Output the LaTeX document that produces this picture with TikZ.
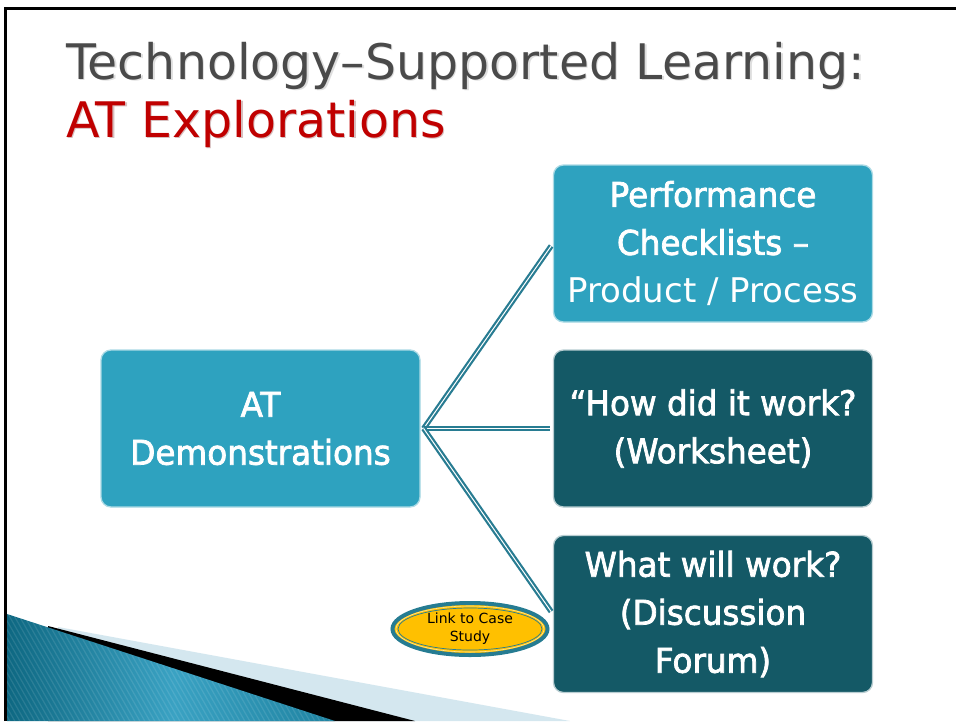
\documentclass[tikz,border=0pt]{standalone}
\usepackage{fontspec}
\setmainfont{DejaVu Sans}
\newfontfamily\boxfont{DejaVu Sans}[FakeBold=2.2,FakeStretch=0.96]
\newfontfamily\plainfont{DejaVu Sans}
\usetikzlibrary{shapes.geometric}
\definecolor{lightbox}{RGB}{46,162,191}
\definecolor{darkbox}{RGB}{20,89,102}
\definecolor{linkcol}{RGB}{40,124,146}
\definecolor{gold}{RGB}{255,192,0}
\definecolor{ellborder}{RGB}{38,124,146}
\definecolor{titlegray}{RGB}{74,74,74}
\definecolor{titlered}{RGB}{192,0,0}
\definecolor{tealdark}{RGB}{14,104,130}
\definecolor{tealmid}{RGB}{58,162,195}
\definecolor{teallight}{RGB}{30,130,160}
\definecolor{paleblue}{RGB}{212,231,239}
\tikzset{
  boxbase/.style={rounded corners=10pt, minimum width=319pt, minimum height=157pt,
    inner sep=0pt, text=white, align=center,
    font=\boxfont\fontsize{34}{48}\selectfont, line width=1.3pt},
  lightnode/.style={boxbase, fill=lightbox, draw=white!60!lightbox},
  darknode/.style={boxbase, fill=darkbox, draw=white!70!darkbox},
  linkline/.style={draw=linkcol, line width=2.2pt, double=white, double distance=1pt},
  titletext/.style={anchor=base west, inner sep=0pt, font=\plainfont\fontsize{49}{56}\selectfont},
}
\begin{document}
\begin{tikzpicture}[x=1pt,y=-1pt]
\useasboundingbox (0,0) rectangle (956,721);
\fill[white] (0,0) rectangle (956,721);
% frame
\draw[line width=3pt] (5.5,721) -- (5.5,8.5) -- (956,8.5);
% bottom-left decoration
\fill[paleblue] (58,627) -- (570,721) -- (58,721) -- cycle;
\fill[black] (48,626) -- (415,721) -- (48,721) -- cycle;
\begin{scope}
\clip (7,614) -- (335,721) -- (7,721) -- cycle;
\shade[left color=tealdark, right color=teallight, middle color=tealmid] (7,600) rectangle (340,721);
\foreach \i in {-200,-195,...,340} \draw[white, opacity=0.10, line width=1.2pt] (\i,600) -- ++(75,130);
\end{scope}
% title
\node[titletext, text=black!25, opacity=0.5] at (67.5,80.5) {Technology–Supported Learning:};
\node[titletext, text=titlegray] (t1) at (66,79) {Technology–Supported Learning:};
\node[titletext, text=titlered!50!black, opacity=0.25] at (67.5,138.5) {AT Explorations};
\node[titletext, text=titlered] (t2) at (66,137) {AT Explorations};
% boxes
\node[lightnode] (at) at (260.5,428.5) {AT\\Demonstrations};
\node[lightnode] (perf) at (713,243.5) {Performance\\Checklists –\\{\plainfont Product / Process}};
\node[darknode] (how) at (713,428.5) {“How did it work?\\(Worksheet)};
\node[darknode] (what) at (713,614) {What will work?\\(Discussion\\Forum)};
% connectors
\coordinate (j) at ([xshift=3pt]at.east);
\draw[linkline, shorten >=3pt] (j) -- (perf.west);
\draw[linkline, shorten >=3pt] (j) -- (how.west);
\draw[linkline, shorten >=3pt] (j) -- (what.west);
% link ellipse
\node[ellipse, fill=gold, draw=ellborder, line width=4pt, minimum width=155pt, minimum height=52pt,
  inner sep=0pt, align=center, font=\plainfont\fontsize{14}{18}\selectfont] (link) at (470,629) {Link to Case\\Study};
\draw[ellborder, line width=0.7pt] (link.center) ellipse [x radius=72pt, y radius=21pt];
\draw[white!60!gold, line width=0.6pt] (link.center) ellipse [x radius=74pt, y radius=23pt];
\end{tikzpicture}
\end{document}
